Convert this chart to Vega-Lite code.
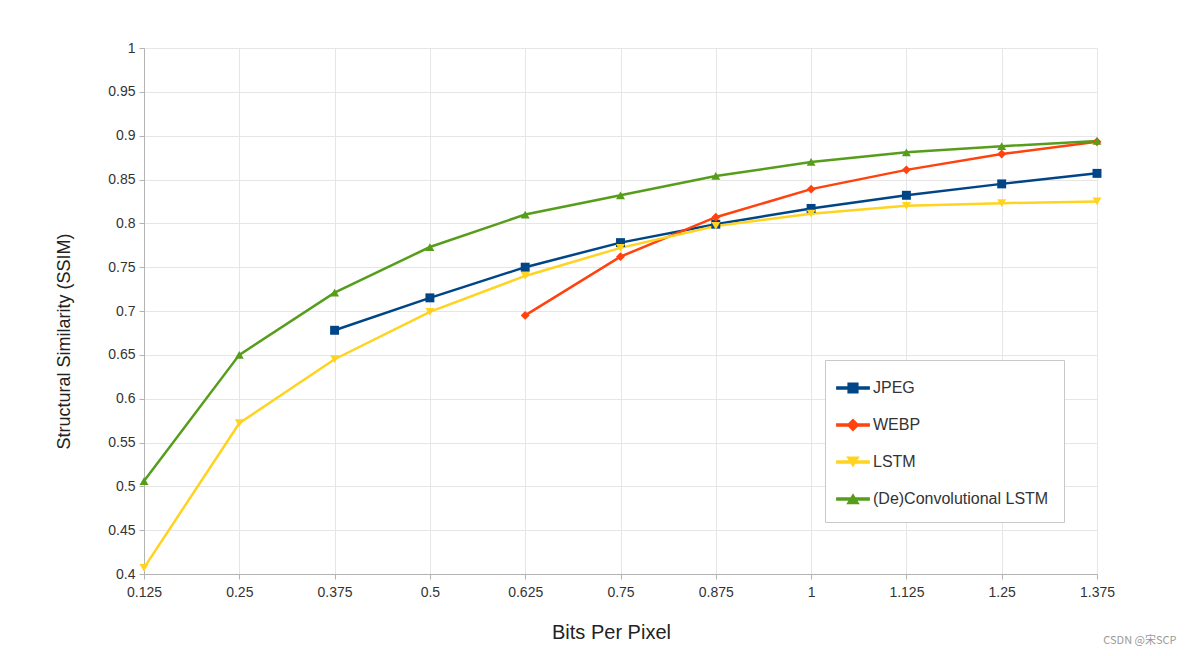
{
  "$schema": "https://vega.github.io/schema/vega-lite/v6.json",
  "width": 953,
  "height": 526,
  "autosize": {"type": "none"},
  "padding": {"left": 144, "top": 48, "right": 95, "bottom": 82},
  "background": "white",
  "title": {"text": "CSDN @宋SCP", "orient": "bottom", "anchor": "end", "font": "Noto Sans CJK SC", "fontSize": 11, "fontWeight": "normal", "color": "#999999", "dx": 62, "offset": -7},
  "config": {
    "view": {"stroke": null},
    "font": "Liberation Sans"
  },
  "data": {"values": [
    {"series": "JPEG", "bpp": 0.375, "ssim": 0.678},
    {"series": "JPEG", "bpp": 0.5, "ssim": 0.715},
    {"series": "JPEG", "bpp": 0.625, "ssim": 0.750},
    {"series": "JPEG", "bpp": 0.75, "ssim": 0.778},
    {"series": "JPEG", "bpp": 0.875, "ssim": 0.799},
    {"series": "JPEG", "bpp": 1.0, "ssim": 0.817},
    {"series": "JPEG", "bpp": 1.125, "ssim": 0.832},
    {"series": "JPEG", "bpp": 1.25, "ssim": 0.845},
    {"series": "JPEG", "bpp": 1.375, "ssim": 0.857},
    {"series": "WEBP", "bpp": 0.625, "ssim": 0.695},
    {"series": "WEBP", "bpp": 0.75, "ssim": 0.762},
    {"series": "WEBP", "bpp": 0.875, "ssim": 0.807},
    {"series": "WEBP", "bpp": 1.0, "ssim": 0.839},
    {"series": "WEBP", "bpp": 1.125, "ssim": 0.861},
    {"series": "WEBP", "bpp": 1.25, "ssim": 0.879},
    {"series": "WEBP", "bpp": 1.375, "ssim": 0.893},
    {"series": "LSTM", "bpp": 0.125, "ssim": 0.407},
    {"series": "LSTM", "bpp": 0.25, "ssim": 0.572},
    {"series": "LSTM", "bpp": 0.375, "ssim": 0.645},
    {"series": "LSTM", "bpp": 0.5, "ssim": 0.699},
    {"series": "LSTM", "bpp": 0.625, "ssim": 0.740},
    {"series": "LSTM", "bpp": 0.75, "ssim": 0.772},
    {"series": "LSTM", "bpp": 0.875, "ssim": 0.797},
    {"series": "LSTM", "bpp": 1.0, "ssim": 0.811},
    {"series": "LSTM", "bpp": 1.125, "ssim": 0.820},
    {"series": "LSTM", "bpp": 1.25, "ssim": 0.823},
    {"series": "LSTM", "bpp": 1.375, "ssim": 0.825},
    {"series": "(De)Convolutional LSTM", "bpp": 0.125, "ssim": 0.506},
    {"series": "(De)Convolutional LSTM", "bpp": 0.25, "ssim": 0.650},
    {"series": "(De)Convolutional LSTM", "bpp": 0.375, "ssim": 0.721},
    {"series": "(De)Convolutional LSTM", "bpp": 0.5, "ssim": 0.773},
    {"series": "(De)Convolutional LSTM", "bpp": 0.625, "ssim": 0.810},
    {"series": "(De)Convolutional LSTM", "bpp": 0.75, "ssim": 0.832},
    {"series": "(De)Convolutional LSTM", "bpp": 0.875, "ssim": 0.854},
    {"series": "(De)Convolutional LSTM", "bpp": 1.0, "ssim": 0.870},
    {"series": "(De)Convolutional LSTM", "bpp": 1.125, "ssim": 0.881},
    {"series": "(De)Convolutional LSTM", "bpp": 1.25, "ssim": 0.888},
    {"series": "(De)Convolutional LSTM", "bpp": 1.375, "ssim": 0.894}
  ]},
  "encoding": {
    "x": {
      "field": "bpp", "type": "quantitative",
      "scale": {"domain": [0.125, 1.375], "nice": false, "zero": false},
      "axis": {
        "title": "Bits Per Pixel",
        "values": [0.125, 0.25, 0.375, 0.5, 0.625, 0.75, 0.875, 1, 1.125, 1.25, 1.375],
        "format": ".4~g",
        "labelFontSize": 14, "labelColor": "#333333", "labelPadding": 6,
        "titleFontSize": 20, "titleFontWeight": "normal", "titleColor": "#222222", "titlePadding": 23,
        "titleX": 467,
        "domainColor": "#b3b3b3", "tickColor": "#b3b3b3", "tickSize": 5,
        "gridColor": "#e6e6e6", "labelFlush": false
      }
    },
    "y": {
      "field": "ssim", "type": "quantitative",
      "scale": {"domain": [0.4, 1], "nice": false, "zero": false},
      "axis": {
        "title": "Structural Similarity (SSIM)",
        "values": [0.4, 0.45, 0.5, 0.55, 0.6, 0.65, 0.7, 0.75, 0.8, 0.85, 0.9, 0.95, 1],
        "format": ".4~g",
        "labelFontSize": 14, "labelColor": "#333333", "labelPadding": 4,
        "titleFontSize": 18, "titleFontWeight": "normal", "titleColor": "#222222", "titlePadding": 34,
        "titleY": 293,
        "domainColor": "#b3b3b3", "tickColor": "#b3b3b3", "tickSize": 5,
        "gridColor": "#e6e6e6", "labelFlush": false
      }
    },
    "color": {
      "field": "series", "type": "nominal",
      "scale": {"domain": ["JPEG", "WEBP", "LSTM", "(De)Convolutional LSTM"], "range": ["#004586", "#ff420e", "#ffd320", "#579d1c"]},
      "legend": {
        "title": null, "orient": "none", "legendX": 681, "legendY": 312,
        "fillColor": "white", "strokeColor": "#c8c8c8", "padding": 15,
        "labelFontSize": 16, "labelColor": "#333333", "labelLimit": 400, "labelOffset": 7,
        "symbolSize": 676, "rowPadding": 16, "symbolStrokeWidth": 0, "symbolOpacity": 1
      }
    }
  },
  "layer": [
    {
      "transform": [{"filter": "datum.bpp > 100"}],
      "mark": {"type": "point", "filled": true, "opacity": 1, "size": 676},
      "encoding": {
        "shape": {
          "field": "series", "type": "nominal",
          "scale": {
            "domain": ["JPEG", "WEBP", "LSTM", "(De)Convolutional LSTM"],
            "range": [
              "M-1.3,-0.14H1.3V0.14H-1.3Z M-0.43,-0.43H0.43V0.43H-0.43Z",
              "M-1.3,-0.14H1.3V0.14H-1.3Z M0,-0.5L0.5,0L0,0.5L-0.5,0Z",
              "M-1.3,-0.14H1.3V0.14H-1.3Z M-0.52,-0.42L0.52,-0.42L0,0.42Z",
              "M-1.3,-0.14H1.3V0.14H-1.3Z M0,-0.45L0.52,0.4L-0.52,0.4Z"
            ]
          }
        }
      }
    },
    {
      "mark": {"type": "line", "strokeWidth": 2.5},
      "encoding": {"detail": {"field": "series"}}
    },
    {
      "transform": [{"filter": "datum.series === 'JPEG'"}],
      "mark": {"type": "point", "filled": true, "opacity": 1, "size": 80, "shape": "square"}
    },
    {
      "transform": [{"filter": "datum.series === 'WEBP'"}],
      "mark": {"type": "point", "filled": true, "opacity": 1, "size": 80, "shape": "diamond"}
    },
    {
      "transform": [{"filter": "datum.series === 'LSTM'"}],
      "mark": {"type": "point", "filled": true, "opacity": 1, "size": 80, "shape": "triangle-down"}
    },
    {
      "transform": [{"filter": "datum.series === '(De)Convolutional LSTM'"}],
      "mark": {"type": "point", "filled": true, "opacity": 1, "size": 80, "shape": "triangle-up"}
    }
  ]
}
